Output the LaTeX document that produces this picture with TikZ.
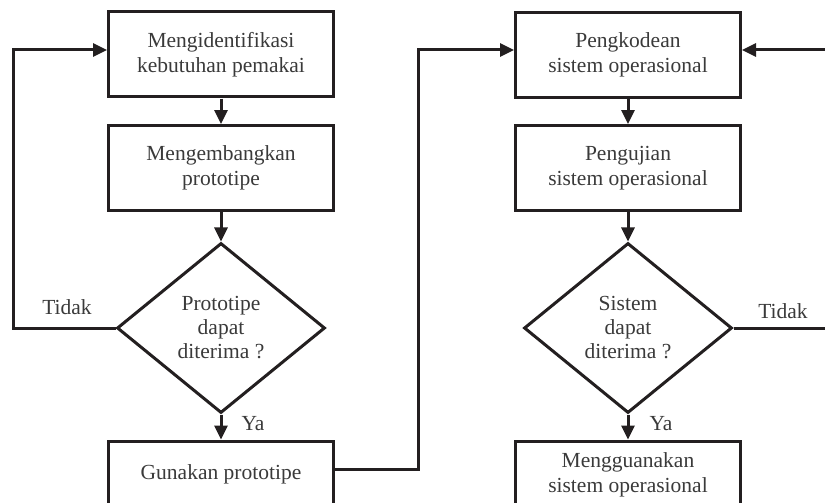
\documentclass[tikz,border=0pt]{standalone}
\usepackage{fontspec}
\setmainfont{Liberation Serif}
\usetikzlibrary{shapes.geometric,arrows.meta}
\definecolor{ink}{HTML}{231F20}
\definecolor{txt}{HTML}{3A3A3A}
\begin{document}
\begin{tikzpicture}[x=1pt,y=-1pt,
  every node/.style={font=\fontsize{21.5}{25}\selectfont, text=txt},
  box/.style={draw=ink, line width=3pt, rectangle, minimum width=225pt, minimum height=85pt, align=center, inner sep=0pt},
  dia/.style={draw=ink, line width=3pt, diamond, minimum width=208pt, minimum height=170pt, aspect=1.22, inner sep=0pt, align=center, font=\fontsize{21.5}{24}\selectfont},
  conn/.style={draw=ink, line width=3pt},
  arr/.style={conn, -{Triangle[length=14pt,width=13pt]}},
  lbl/.style={inner sep=0pt}]
\useasboundingbox (0,0) rectangle (825,503);
\clip (0,0) rectangle (825,503);
\node[box] (b1) at (221,54.5) {Mengidentifikasi\\kebutuhan pemakai};
\node[box] (b2) at (221,168) {Mengembangkan\\prototipe};
\node[dia] (d1) at (221,328) {Prototipe\\dapat\\diterima ?};
\node[box] (b3) at (221,483.5) {\raisebox{9.5pt}[\height][\depth]{Gunakan prototipe}};
\node[box] (b4) at (628,55) {Pengkodean\\sistem operasional};
\node[box] (b5) at (628,168) {Pengujian\\sistem operasional};
\node[dia] (d2) at (628,328) {Sistem\\dapat\\diterima ?};
\node[box] (b6) at (628,483.5) {\raisebox{9pt}[\height][\depth]{\begin{tabular}{@{}c@{}}Mengguanakan\\sistem operasional\end{tabular}}};
\draw[arr] (b1) -- (b2);
\draw[arr] (b2) -- (d1);
\draw[arr] (d1) -- (b3);
\draw[arr] (b4) -- (b5);
\draw[arr] (b5) -- (d2);
\draw[arr] (d2) -- (b6);
\coordinate (lt) at (13,50);
\coordinate (lb) at (13,328);
\draw[arr] (d1.west) -- (lb) -- (lt) -- (lt -| b1.west);
\coordinate (mt) at (418,50);
\coordinate (mb) at (418,469);
\draw[arr] (mb -| b3.east) -- (mb) -- (mt) -- (mt -| b4.west);
\coordinate (rt) at (830,50);
\coordinate (rb) at (830,328);
\draw[arr] (d2.east) -- (rb) -- (rt) -- (rt -| b4.east);
\node[lbl] (t1) at (67,307) {Tidak};
\node[lbl] (t2) at (783,311) {Tidak};
\node[lbl] (y1) at (253,424) {Ya};
\node[lbl] (y2) at (661,424) {Ya};
\end{tikzpicture}
\end{document}
